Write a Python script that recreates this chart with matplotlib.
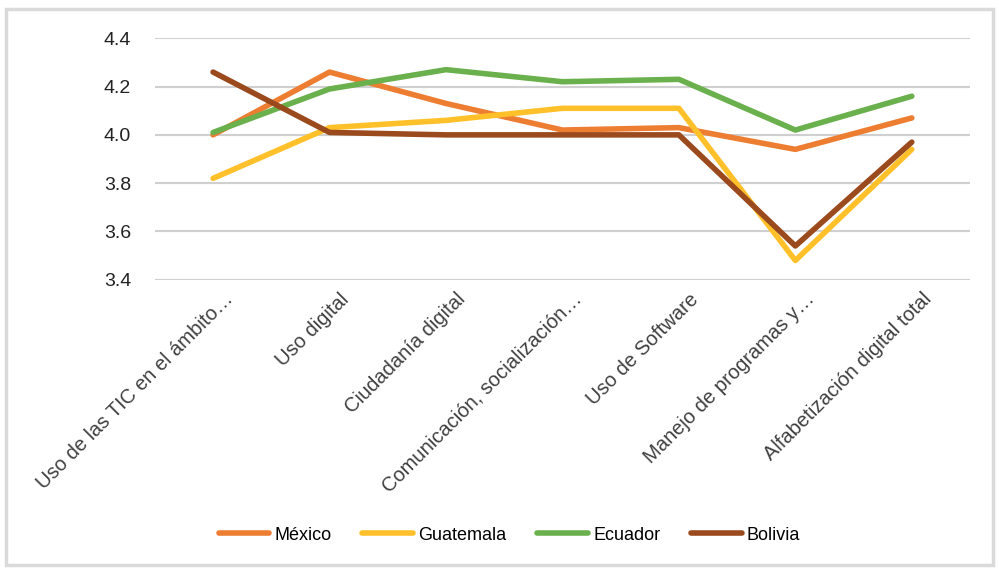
import matplotlib.pyplot as plt
from matplotlib.patches import Rectangle
from matplotlib.transforms import ScaledTranslation

plt.rcParams['font.family'] = ['Liberation Sans', 'DejaVu Sans']

categories = [
    "Uso de las TIC en el ámbito…",
    "Uso digital",
    "Ciudadanía digital",
    "Comunicación, socialización…",
    "Uso de Software",
    "Manejo de programas y…",
    "Alfabetización digital total",
]
mexico = [4.00, 4.26, 4.13, 4.02, 4.03, 3.94, 4.07]
guatemala = [3.82, 4.03, 4.06, 4.11, 4.11, 3.48, 3.94]
ecuador = [4.01, 4.19, 4.27, 4.22, 4.23, 4.02, 4.16]
bolivia = [4.26, 4.01, 4.00, 4.00, 4.00, 3.54, 3.97]

series = [
    ("México", mexico, "#ED7D31"),
    ("Guatemala", guatemala, "#FFC02A"),
    ("Ecuador", ecuador, "#6AB04C"),
    ("Bolivia", bolivia, "#9A4A1C"),
]

fig = plt.figure(figsize=(9.99, 5.71), dpi=100)
fig.patches.append(Rectangle((0.006, 0.01), 0.988, 0.975, transform=fig.transFigure,
                             fill=False, edgecolor="#DADADA", linewidth=2.5))
ax = fig.add_axes([0.155, 0.51, 0.816, 0.423])

x = list(range(len(categories)))
for name, vals, color in series:
    ax.plot(x, vals, color=color, linewidth=4, label=name, solid_capstyle="round")

yticks = [3.4, 3.6, 3.8, 4.0, 4.2, 4.4]
ax.set_ylim(3.4, 4.4)
ax.set_xlim(-0.5, len(categories) - 0.5)
ax.set_yticks(yticks)
ax.set_yticklabels([f"{v:.1f}" for v in yticks], fontsize=14, color="#222222")
ax.yaxis.grid(True, color="#D0D0D0", linewidth=1.5)
ax.set_axisbelow(True)
for s in ax.spines.values():
    s.set_visible(False)
ax.tick_params(axis="both", length=0)
ax.tick_params(axis="y", pad=17)

ax.set_xticks(x)
ax.set_xticklabels(categories, rotation=45, ha="right", rotation_mode="anchor",
                   fontsize=14.5, color="#404040")
ax.tick_params(axis="x", pad=7)
shift = ScaledTranslation(10 / 100, 0, fig.dpi_scale_trans)
for lbl in ax.get_xticklabels():
    lbl.set_transform(lbl.get_transform() + shift)

fig.legend(loc="center", bbox_to_anchor=(0.51, 0.063), ncol=4, frameon=False,
           fontsize=13, handlelength=2.8, handletextpad=0.3, columnspacing=1.7)

fig.savefig("out.png", dpi=100)
